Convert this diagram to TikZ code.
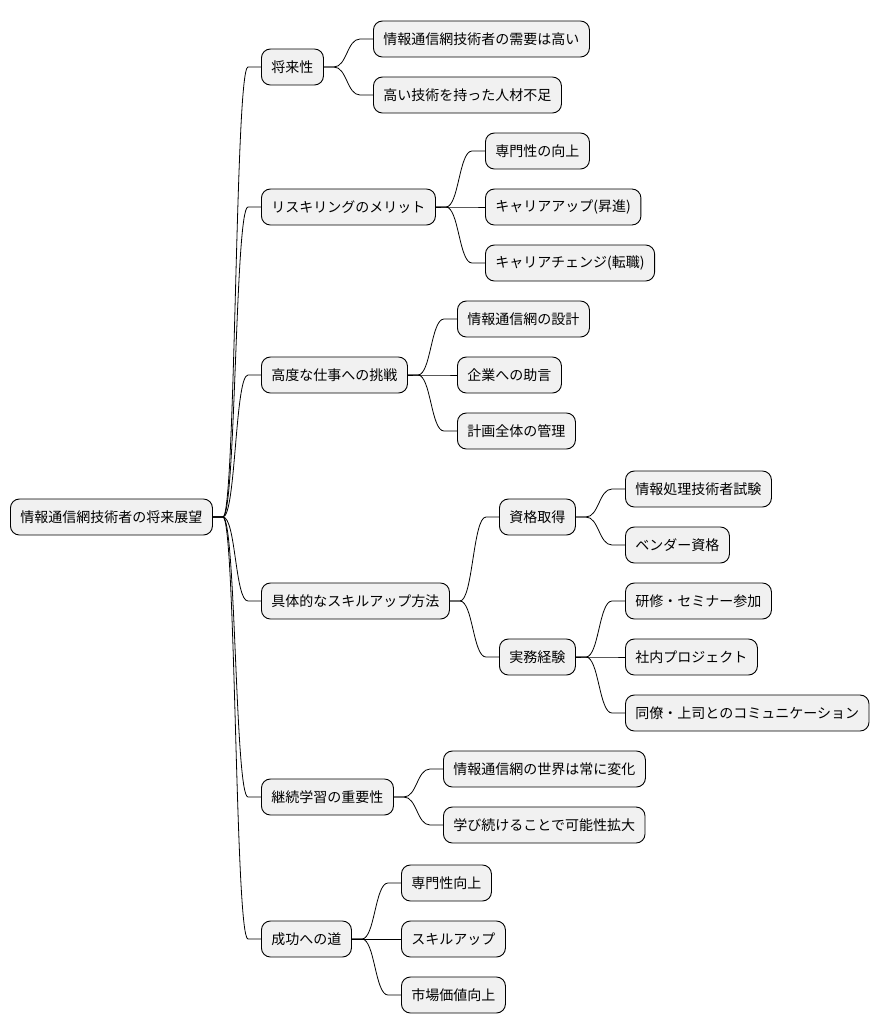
\documentclass[tikz,border=0pt]{standalone}
\usepackage{fontspec}
\setmainfont{Noto Sans CJK JP}
\usetikzlibrary{positioning}
\definecolor{boxgray}{RGB}{241,241,241}

\begin{document}
\begin{tikzpicture}[x=1pt, y=-1pt,
    idea/.style={draw=black, fill=boxgray, rounded corners=9pt, anchor=west,
      minimum height=36pt, inner xsep=10pt, line width=0.9pt,
      font=\fontsize{14pt}{16pt}\selectfont},
    link/.style={line width=0.8pt, to path={-- ++(10pt,0)
      .. controls +(13pt,0) and +(-13pt,0) .. ([xshift=-13pt]\tikztotarget)
      -- (\tikztotarget)}},
  ]
    \useasboundingbox (0,0) rectangle (880,1034);
    % root
    \node[idea] (root) at (10,517) {情報通信網技術者の将来展望};
    % first level
    \node[idea] (future)   at (261,67)  {将来性};
    \node[idea] (reskill)  at (261,207) {リスキリングのメリット};
    \node[idea] (advanced) at (261,375) {高度な仕事への挑戦};
    \node[idea] (method)   at (261,601) {具体的なスキルアップ方法};
    \node[idea] (learning) at (261,797) {継続学習の重要性};
    \node[idea] (success)  at (261,939) {成功への道};
    % second level
    \node[idea] (demand)   at (373,39)  {情報通信網技術者の需要は高い};
    \node[idea] (shortage) at (373,95)  {高い技術を持った人材不足};
    \node[idea] (expert)   at (485,151) {専門性の向上};
    \node[idea] (careerup) at (485,207) {キャリアアップ(昇進)};
    \node[idea] (change)   at (485,263) {キャリアチェンジ(転職)};
    \node[idea] (design)   at (457,319) {情報通信網の設計};
    \node[idea] (advice)   at (457,375) {企業への助言};
    \node[idea] (manage)   at (457,431) {計画全体の管理};
    \node[idea] (license)  at (499,517) {資格取得};
    \node[idea] (practice) at (499,657) {実務経験};
    \node[idea] (world)    at (443,769) {情報通信網の世界は常に変化};
    \node[idea] (keepon)   at (443,825) {学び続けることで可能性拡大};
    \node[idea] (special)  at (401,883) {専門性向上};
    \node[idea] (skill)    at (401,939) {スキルアップ};
    \node[idea] (market)   at (401,995) {市場価値向上};
    % third level
    \node[idea] (exam)     at (625,489) {情報処理技術者試験};
    \node[idea] (vendor)   at (625,545) {ベンダー資格};
    \node[idea] (seminar)  at (625,601) {研修・セミナー参加};
    \node[idea] (project)  at (625,657) {社内プロジェクト};
    \node[idea] (talk)     at (625,713) {同僚・上司とのコミュニケーション};
    % links
    \foreach \c in {future,reskill,advanced,method,learning,success}
      \draw[link] (root.east) to (\c.west);
    \foreach \p/\c in {future/demand, future/shortage,
        reskill/expert, reskill/careerup, reskill/change,
        advanced/design, advanced/advice, advanced/manage,
        method/license, method/practice,
        learning/world, learning/keepon,
        success/special, success/skill, success/market,
        license/exam, license/vendor,
        practice/seminar, practice/project, practice/talk}
      \draw[link] (\p.east) to (\c.west);
\end{tikzpicture}
\end{document}
